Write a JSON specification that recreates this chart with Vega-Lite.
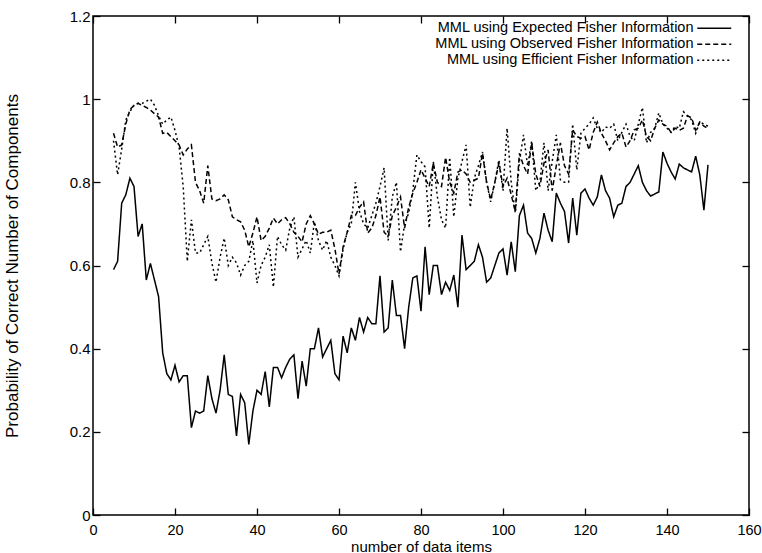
{
  "$schema": "https://vega.github.io/schema/vega-lite/v6.json",
  "autosize": {"type": "none"},
  "width": 656,
  "height": 499,
  "padding": {"left": 93, "top": 16, "right": 13, "bottom": 38},
  "background": "white",
  "config": {
    "view": {"stroke": "black", "strokeWidth": 1.5},
    "font": "Liberation Sans",
    "axis": {"grid": false, "domain": false, "tickColor": "black", "tickSize": -7, "tickWidth": 1.3, "labelColor": "black", "titleColor": "black", "labelFont": "Liberation Sans", "titleFont": "Liberation Sans", "labelFontSize": 15, "titleFontSize": 15, "titleFontWeight": "normal", "labelFlush": false}
  },
  "data": {"values": [
    {"x":5,"e":0.59,"o":0.918,"f":0.90},
    {"x":6,"e":0.61,"o":0.885,"f":0.818},
    {"x":7,"e":0.75,"o":0.89,"f":0.88},
    {"x":8,"e":0.77,"o":0.94,"f":0.95},
    {"x":9,"e":0.81,"o":0.975,"f":0.97},
    {"x":10,"e":0.79,"o":0.985,"f":0.985},
    {"x":11,"e":0.67,"o":0.99,"f":0.99},
    {"x":12,"e":0.70,"o":0.985,"f":0.99},
    {"x":13,"e":0.565,"o":0.98,"f":0.995},
    {"x":14,"e":0.605,"o":0.974,"f":1.0},
    {"x":15,"e":0.565,"o":0.965,"f":0.985},
    {"x":16,"e":0.525,"o":0.957,"f":0.96},
    {"x":17,"e":0.39,"o":0.918,"f":0.94},
    {"x":18,"e":0.34,"o":0.92,"f":0.95},
    {"x":19,"e":0.325,"o":0.91,"f":0.957},
    {"x":20,"e":0.36,"o":0.90,"f":0.925},
    {"x":21,"e":0.32,"o":0.89,"f":0.885},
    {"x":22,"e":0.335,"o":0.866,"f":0.79},
    {"x":23,"e":0.335,"o":0.88,"f":0.61},
    {"x":24,"e":0.21,"o":0.89,"f":0.71},
    {"x":25,"e":0.25,"o":0.80,"f":0.63},
    {"x":26,"e":0.245,"o":0.78,"f":0.63},
    {"x":27,"e":0.25,"o":0.75,"f":0.65},
    {"x":28,"e":0.335,"o":0.84,"f":0.67},
    {"x":29,"e":0.28,"o":0.76,"f":0.606},
    {"x":30,"e":0.245,"o":0.756,"f":0.56},
    {"x":31,"e":0.30,"o":0.76,"f":0.62},
    {"x":32,"e":0.385,"o":0.77,"f":0.666},
    {"x":33,"e":0.29,"o":0.758,"f":0.60},
    {"x":34,"e":0.285,"o":0.717,"f":0.62},
    {"x":35,"e":0.19,"o":0.71,"f":0.606},
    {"x":36,"e":0.29,"o":0.705,"f":0.577},
    {"x":37,"e":0.27,"o":0.685,"f":0.60},
    {"x":38,"e":0.17,"o":0.645,"f":0.61},
    {"x":39,"e":0.25,"o":0.678,"f":0.66},
    {"x":40,"e":0.30,"o":0.717,"f":0.558},
    {"x":41,"e":0.29,"o":0.66,"f":0.60},
    {"x":42,"e":0.345,"o":0.67,"f":0.62},
    {"x":43,"e":0.26,"o":0.69,"f":0.65},
    {"x":44,"e":0.355,"o":0.714,"f":0.548},
    {"x":45,"e":0.355,"o":0.70,"f":0.67},
    {"x":46,"e":0.33,"o":0.71,"f":0.65},
    {"x":47,"e":0.355,"o":0.715,"f":0.637},
    {"x":48,"e":0.375,"o":0.70,"f":0.69},
    {"x":49,"e":0.385,"o":0.68,"f":0.717},
    {"x":50,"e":0.28,"o":0.67,"f":0.62},
    {"x":51,"e":0.37,"o":0.657,"f":0.64},
    {"x":52,"e":0.31,"o":0.70,"f":0.66},
    {"x":53,"e":0.40,"o":0.72,"f":0.63},
    {"x":54,"e":0.40,"o":0.70,"f":0.705},
    {"x":55,"e":0.45,"o":0.675,"f":0.66},
    {"x":56,"e":0.38,"o":0.68,"f":0.637},
    {"x":57,"e":0.40,"o":0.68,"f":0.66},
    {"x":58,"e":0.42,"o":0.685,"f":0.62},
    {"x":59,"e":0.34,"o":0.64,"f":0.60},
    {"x":60,"e":0.325,"o":0.58,"f":0.575},
    {"x":61,"e":0.43,"o":0.645,"f":0.64},
    {"x":62,"e":0.39,"o":0.68,"f":0.68},
    {"x":63,"e":0.45,"o":0.72,"f":0.70},
    {"x":64,"e":0.42,"o":0.72,"f":0.80},
    {"x":65,"e":0.475,"o":0.74,"f":0.73},
    {"x":66,"e":0.44,"o":0.753,"f":0.70},
    {"x":67,"e":0.475,"o":0.678,"f":0.69},
    {"x":68,"e":0.46,"o":0.69,"f":0.72},
    {"x":69,"e":0.46,"o":0.72,"f":0.75},
    {"x":70,"e":0.575,"o":0.765,"f":0.79},
    {"x":71,"e":0.44,"o":0.68,"f":0.835},
    {"x":72,"e":0.45,"o":0.67,"f":0.66},
    {"x":73,"e":0.565,"o":0.72,"f":0.765},
    {"x":74,"e":0.48,"o":0.74,"f":0.80},
    {"x":75,"e":0.48,"o":0.765,"f":0.633},
    {"x":76,"e":0.40,"o":0.69,"f":0.70},
    {"x":77,"e":0.50,"o":0.74,"f":0.726},
    {"x":78,"e":0.57,"o":0.774,"f":0.78},
    {"x":79,"e":0.575,"o":0.80,"f":0.866},
    {"x":80,"e":0.49,"o":0.83,"f":0.85},
    {"x":81,"e":0.645,"o":0.81,"f":0.837},
    {"x":82,"e":0.53,"o":0.79,"f":0.69},
    {"x":83,"e":0.60,"o":0.846,"f":0.85},
    {"x":84,"e":0.60,"o":0.80,"f":0.765},
    {"x":85,"e":0.53,"o":0.79,"f":0.71},
    {"x":86,"e":0.56,"o":0.86,"f":0.69},
    {"x":87,"e":0.54,"o":0.80,"f":0.86},
    {"x":88,"e":0.577,"o":0.774,"f":0.717},
    {"x":89,"e":0.50,"o":0.825,"f":0.81},
    {"x":90,"e":0.673,"o":0.83,"f":0.85},
    {"x":91,"e":0.59,"o":0.82,"f":0.89},
    {"x":92,"e":0.60,"o":0.80,"f":0.74},
    {"x":93,"e":0.61,"o":0.805,"f":0.81},
    {"x":94,"e":0.65,"o":0.81,"f":0.84},
    {"x":95,"e":0.62,"o":0.87,"f":0.873},
    {"x":96,"e":0.56,"o":0.80,"f":0.80},
    {"x":97,"e":0.57,"o":0.758,"f":0.753},
    {"x":98,"e":0.60,"o":0.80,"f":0.80},
    {"x":99,"e":0.63,"o":0.846,"f":0.854},
    {"x":100,"e":0.64,"o":0.79,"f":0.78},
    {"x":101,"e":0.577,"o":0.81,"f":0.93},
    {"x":102,"e":0.657,"o":0.77,"f":0.80},
    {"x":103,"e":0.585,"o":0.73,"f":0.726},
    {"x":104,"e":0.72,"o":0.87,"f":0.85},
    {"x":105,"e":0.745,"o":0.84,"f":0.914},
    {"x":106,"e":0.678,"o":0.82,"f":0.84},
    {"x":107,"e":0.665,"o":0.895,"f":0.90},
    {"x":108,"e":0.63,"o":0.82,"f":0.78},
    {"x":109,"e":0.665,"o":0.79,"f":0.80},
    {"x":110,"e":0.726,"o":0.846,"f":0.895},
    {"x":111,"e":0.685,"o":0.878,"f":0.78},
    {"x":112,"e":0.657,"o":0.78,"f":0.85},
    {"x":113,"e":0.774,"o":0.84,"f":0.914},
    {"x":114,"e":0.75,"o":0.895,"f":0.806},
    {"x":115,"e":0.73,"o":0.84,"f":0.80},
    {"x":116,"e":0.654,"o":0.82,"f":0.80},
    {"x":117,"e":0.762,"o":0.926,"f":0.94},
    {"x":118,"e":0.673,"o":0.91,"f":0.83},
    {"x":119,"e":0.774,"o":0.906,"f":0.918},
    {"x":120,"e":0.784,"o":0.91,"f":0.93},
    {"x":121,"e":0.762,"o":0.878,"f":0.94},
    {"x":122,"e":0.745,"o":0.92,"f":0.955},
    {"x":123,"e":0.765,"o":0.945,"f":0.93},
    {"x":124,"e":0.818,"o":0.918,"f":0.92},
    {"x":125,"e":0.78,"o":0.90,"f":0.933},
    {"x":126,"e":0.762,"o":0.878,"f":0.93},
    {"x":127,"e":0.717,"o":0.895,"f":0.94},
    {"x":128,"e":0.745,"o":0.91,"f":0.90},
    {"x":129,"e":0.75,"o":0.918,"f":0.92},
    {"x":130,"e":0.79,"o":0.885,"f":0.94},
    {"x":131,"e":0.80,"o":0.90,"f":0.91},
    {"x":132,"e":0.82,"o":0.926,"f":0.90},
    {"x":133,"e":0.84,"o":0.93,"f":0.94},
    {"x":134,"e":0.80,"o":0.95,"f":0.98},
    {"x":135,"e":0.78,"o":0.91,"f":0.895},
    {"x":136,"e":0.767,"o":0.90,"f":0.92},
    {"x":137,"e":0.772,"o":0.93,"f":0.93},
    {"x":138,"e":0.777,"o":0.95,"f":0.967},
    {"x":139,"e":0.873,"o":0.94,"f":0.94},
    {"x":140,"e":0.846,"o":0.935,"f":0.93},
    {"x":141,"e":0.825,"o":0.92,"f":0.92},
    {"x":142,"e":0.808,"o":0.93,"f":0.935},
    {"x":143,"e":0.844,"o":0.925,"f":0.93},
    {"x":144,"e":0.835,"o":0.93,"f":0.97},
    {"x":145,"e":0.83,"o":0.96,"f":0.96},
    {"x":146,"e":0.825,"o":0.955,"f":0.95},
    {"x":147,"e":0.863,"o":0.925,"f":0.918},
    {"x":148,"e":0.818,"o":0.945,"f":0.945},
    {"x":149,"e":0.733,"o":0.935,"f":0.94},
    {"x":150,"e":0.842,"o":0.93,"f":0.935}
  ]},
  "transform": [{"fold": ["e", "o", "f"], "as": ["series", "value"]}],
  "resolve": {"axis": {"x": "independent", "y": "independent"}},
  "layer": [
    {
      "mark": {"type": "line", "color": "black", "strokeWidth": 1.5, "interpolate": "linear"},
      "encoding": {
        "x": {"field": "x", "type": "quantitative", "scale": {"domain": [0, 160], "nice": false, "zero": false},
              "axis": {"orient": "bottom", "values": [0,20,40,60,80,100,120,140,160], "title": "number of data items", "labelPadding": 15, "labelFontSize": 14.5, "titleY": 31, "titleBaseline": "middle"}},
        "y": {"field": "value", "type": "quantitative", "scale": {"domain": [0, 1.2], "nice": false, "zero": false},
              "axis": {"orient": "left", "values": [0,0.2,0.4,0.6,0.8,1,1.2], "format": "~g", "title": "Probability of Correct Number of Components", "labelPadding": 10, "titleFontSize": 17, "titleX": -81, "titleY": 249.5, "titleAngle": 270, "titleAlign": "center", "titleBaseline": "middle"}},
        "strokeDash": {"field": "series", "type": "nominal",
          "scale": {"domain": ["e", "o", "f"], "range": [[1, 0], [5, 3], [2, 3]]},
          "legend": {"title": null, "orient": "none", "legendX": 614, "legendY": 5, "padding": 0, "rowPadding": 1,
                     "symbolType": "M-3.4,0H3.4", "symbolSize": 100, "symbolStrokeWidth": 1.5, "symbolStrokeColor": "black",
                     "labelFontSize": 14.5, "labelFont": "Liberation Sans", "labelColor": "black", "labelLimit": 500,
                     "labelAlign": "right", "labelOffset": -28,
                     "labelExpr": "datum.label == 'e' ? 'MML using Expected Fisher Information' : datum.label == 'o' ? 'MML using Observed Fisher Information' : 'MML using Efficient Fisher Information'"}}
      }
    },
    {
      "mark": {"type": "line", "opacity": 0},
      "encoding": {
        "x": {"field": "x", "type": "quantitative", "axis": {"orient": "top", "values": [0,20,40,60,80,100,120,140,160], "labels": false, "title": null}},
        "y": {"field": "value", "type": "quantitative", "axis": {"orient": "right", "values": [0,0.2,0.4,0.6,0.8,1,1.2], "labels": false, "title": null}},
        "detail": {"field": "series", "type": "nominal"}
      }
    }
  ]
}
